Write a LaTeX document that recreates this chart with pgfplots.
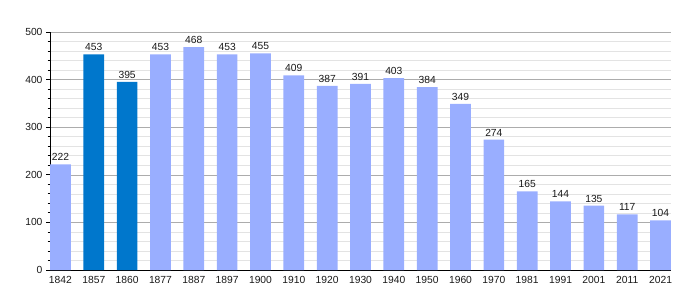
\documentclass[border=0pt]{standalone}
\usepackage{pgfplots}
\pgfplotsset{compat=1.18}
\usepackage{fontspec}
\setmainfont{Liberation Sans}
\definecolor{lightbar}{HTML}{99AEFF}
\definecolor{darkbar}{HTML}{0077CC}
\begin{document}
\begin{tikzpicture}
\path[use as bounding box] (0pt,0pt) rectangle (700pt,300pt);
\begin{axis}[
  at={(50pt,30pt)}, anchor=south west,
  scale only axis, width=621pt, height=238pt,
  xmin=-0.3135, xmax=18.3135, ymin=0, ymax=500,
  axis x line*=bottom, axis y line*=left,
  axis line style={line width=1pt, black},
  xtick={0,...,18},
  xticklabels={1842,1857,1860,1877,1887,1897,1900,1910,1920,1930,1940,1950,1960,1970,1981,1991,2001,2011,2021},
  xtick style={draw=none},
  ytick={0,100,...,500},
  minor y tick num=4,
  tick align=outside,
  major tick length=4pt, minor tick length=2.5pt,
  ytick style={black, line width=0.8pt},
  minor tick style={black, line width=0.6pt},
  ymajorgrids, yminorgrids,
  major grid style={gray!65, line width=0.6pt},
  minor grid style={gray!22, line width=0.6pt},
  /pgf/number format/assume math mode=true,
  ticklabel style={font=\fontsize{10.3}{12}\selectfont, text=black!90},
  xticklabel style={yshift=1pt},
  ybar, bar width=20.7pt,
  nodes near coords,
  every node near coord/.append style={font=\fontsize{10.3}{12}\selectfont, text=black!90, yshift=0pt},
  clip=false,
]
\addplot[fill=lightbar, draw=none, bar shift=0pt] coordinates {
(0,222) (3,453) (4,468) (5,453) (6,455) (7,409) (8,387) (9,391) (10,403)
(11,384) (12,349) (13,274) (14,165) (15,144) (16,135) (17,117) (18,104)};
\addplot[fill=darkbar, draw=none, bar shift=0pt] coordinates {(1,453) (2,395)};
\end{axis}
\end{tikzpicture}
\end{document}
